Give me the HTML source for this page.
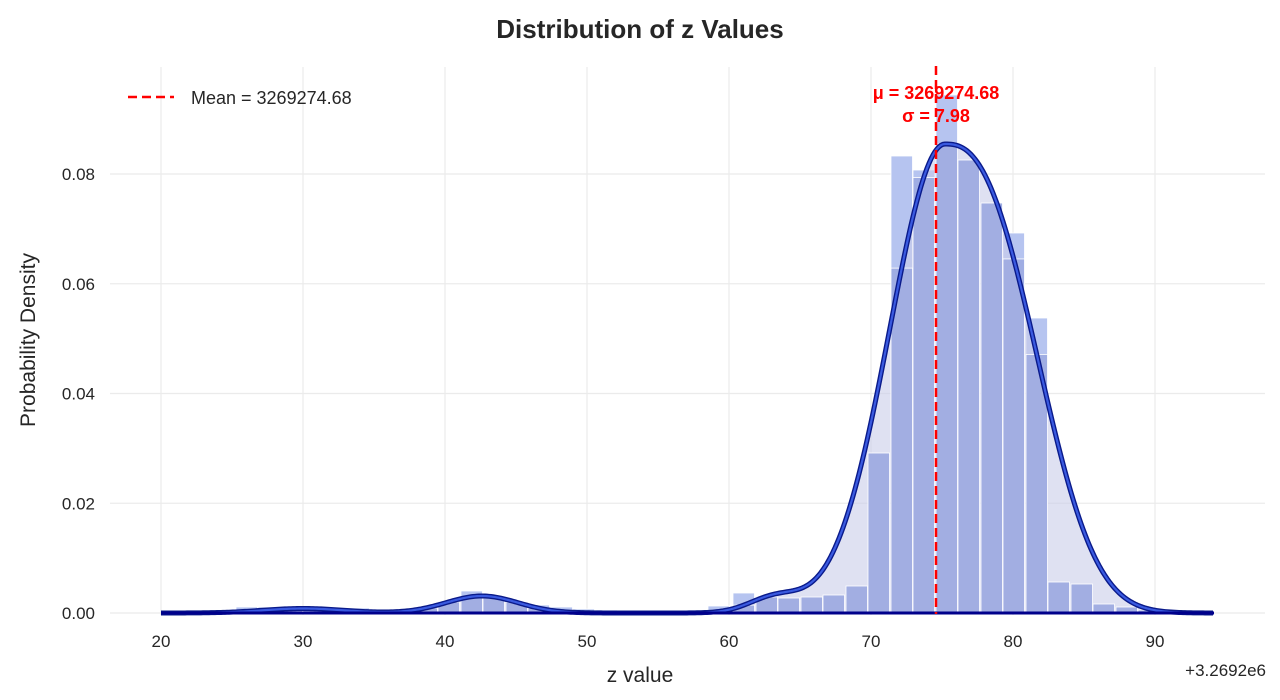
<!DOCTYPE html>
<html><head><meta charset="utf-8"><style>
body{margin:0;background:#fff;width:1280px;height:700px;overflow:hidden}
svg{display:block}
text{font-family:"Liberation Sans",sans-serif}
</style></head><body>
<svg id="s" width="1280" height="700" xmlns="http://www.w3.org/2000/svg">
<g id="grid" stroke="#ebebeb" stroke-width="1.2"></g>
<g id="bars"></g>
<path id="fill" fill="#c9cdea" fill-opacity="0.6"/>
<g id="bars2"></g>
<path id="c1" fill="none" stroke="#0a1a8a" stroke-width="5"/>
<path id="c2" fill="none" stroke="#3a5ae0" stroke-width="2.2"/>
<line x1="161" y1="613" x2="1214" y2="613" stroke="#00008b" stroke-width="3"/>
<line x1="936" y1="66" x2="936" y2="614" stroke="#ff0000" stroke-width="2.5" stroke-dasharray="9,5"/>
<text x="640" y="38" font-size="26" font-weight="bold" text-anchor="middle" fill="#262626">Distribution of z Values</text>
<text x="936" y="99" font-size="18" font-weight="bold" text-anchor="middle" fill="#ff0000">μ = 3269274.68</text>
<text x="936" y="122" font-size="18" font-weight="bold" text-anchor="middle" fill="#ff0000">σ = 7.98</text>
<line x1="128" y1="97" x2="174" y2="97" stroke="#ff0000" stroke-width="2.5" stroke-dasharray="9,5"/>
<text x="191" y="104" font-size="18" fill="#262626">Mean = 3269274.68</text>
<text x="640" y="682" font-size="21" text-anchor="middle" fill="#262626">z value</text>
<text x="1266" y="676" font-size="17" text-anchor="end" fill="#262626">+3.2692e6</text>
<text transform="translate(35,340) rotate(-90)" font-size="21" text-anchor="middle" fill="#262626">Probability Density</text>
<g id="ticks" font-size="17" fill="#262626"></g>
</svg>
<script>
var NS="http://www.w3.org/2000/svg";
function el(p,t,a,txt){var e=document.createElementNS(NS,t);for(var k in a)e.setAttribute(k,a[k]);if(txt!=null)e.textContent=txt;document.getElementById(p).appendChild(e);}
for(var i=0;i<8;i++){var x=161+i*142;el("grid","line",{x1:x,y1:67,x2:x,y2:615});el("ticks","text",{x:x,y:647,"text-anchor":"middle"},String(20+i*10));}
for(var j=0;j<5;j++){var y=613-j*109.75;el("grid","line",{x1:110,y1:y,x2:1265,y2:y});el("ticks","text",{x:95,y:y+6,"text-anchor":"end"},(j*0.02).toFixed(2));}
var bars=[[236,607],[258,607],[281,608],[303,607],[326,608],[348,608],[371,609],[393,609],[416,608],[438,601],[461,591],[483,597],[506,602],[528,605],[551,607],[573,609],[596,610],[618,611],[641,611],[663,611],[686,610],[708,606],[733,593],[756,597],[778,598],[801,597],[823,595],[846,586],[868,453],[891,156],[913,170],[936,95],[958,160],[981,203],[1003,233],[1026,318],[1048,582],[1071,584],[1093,604],[1116,607],[1138,610]];
var curve=function(x){
 var h=0; var m=945, d=Math.abs(x-m);
 if(x<m) h+=469*Math.exp(-Math.pow(d/78,2));
 else h+=469*Math.exp(-Math.pow(d/112,2.6));
 h+=15*Math.exp(-Math.pow(x-775,2)/(2*26*26));
 h+=17*Math.exp(-Math.pow(x-482,2)/(2*36*36));
 h+=4.5*Math.exp(-Math.pow(x-303,2)/(2*40*40));
 return 613-h;};
bars.forEach(function(b){
 var w=21.5; var t=b[1];
 el("bars","rect",{x:b[0],y:t,width:w,height:613-t,fill:"#b6c4f0",stroke:"#fff","stroke-width":0.8});
 var cy=curve(b[0]+w/2); var t2=Math.max(t,cy);
 el("bars2","rect",{x:b[0],y:t2,width:w,height:613-t2,fill:"#9aa8e0","fill-opacity":0.8,stroke:"#fff","stroke-width":0.8});
});
var d="";for(var x=161;x<=1214;x+=2){d+=(x==161?"M":"L")+x+","+curve(x).toFixed(2);}
document.getElementById("c1").setAttribute("d",d);
document.getElementById("c2").setAttribute("d",d);
document.getElementById("fill").setAttribute("d",d+"L1214,613L161,613Z");
</script>
</body></html>
